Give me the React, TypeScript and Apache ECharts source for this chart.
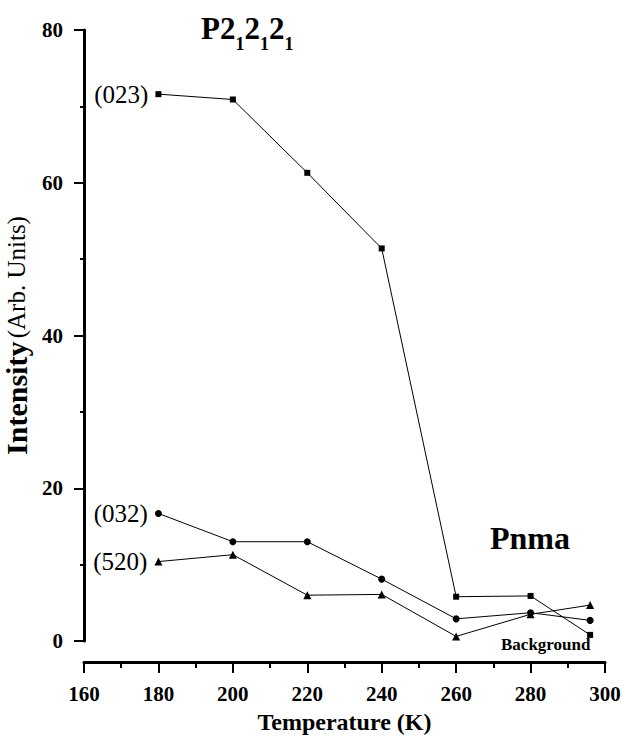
import React, { useEffect, useRef } from "react";
import * as echarts from "echarts";

const temperatures = [180, 200, 220, 240, 260, 280, 296];
const s023 = [71.6, 70.9, 61.3, 51.4, 5.8, 5.9, 0.8];
const s032 = [16.7, 13.0, 13.0, 8.1, 2.9, 3.7, 2.7];
const s520 = [10.4, 11.3, 6.0, 6.1, 0.6, 3.5, 4.7];
const seriesNames = ["(023)", "(032)", "(520)"];
const xTicks = { min: 160, max: 300, interval: 20 };
const yTicks = { min: 0, max: 80, interval: 20 };

const FONT = "'Liberation Serif', 'DejaVu Serif', serif";

export default function App() {
  const ref = useRef<HTMLDivElement>(null);
  useEffect(() => {
    if (!ref.current) return;
    const chart = echarts.init(ref.current, undefined, { renderer: "svg" });
    const mk = (name: string, vals: number[], symbol: string, size: number) => ({
      name,
      type: "line",
      data: temperatures.map((t, i) => [t, vals[i]]),
      symbol,
      symbolSize: size,
      lineStyle: { color: "#000", width: 1 },
      itemStyle: { color: "#000" },
      label: {
        show: true,
        position: "left",
        distance: 7,
        fontFamily: FONT,
        fontSize: 25,
        color: "#000",
        formatter: (p: any) => (p.dataIndex === 0 ? name : ""),
      },
    });
    chart.setOption({
      animation: false,
      backgroundColor: "#fff",
      grid: { left: 84, right: 17, top: 30, bottom: 99, containLabel: false, outerBoundsMode: "none" },
      xAxis: {
        type: "value",
        min: xTicks.min,
        max: xTicks.max,
        interval: xTicks.interval,
        offset: 21,
        axisLine: { show: true, onZero: false, lineStyle: { color: "#000", width: 3 } },
        axisTick: { show: true, length: 11, lineStyle: { color: "#000", width: 2 } },
        minorTick: { show: true, splitNumber: 2, length: 6, lineStyle: { color: "#000", width: 2 } },
        splitLine: { show: false },
        axisLabel: { color: "#000", fontFamily: FONT, fontWeight: "bold", fontSize: 21, margin: 21 },
        name: "Temperature (K)",
        nameLocation: "middle",
        nameGap: 48,
        nameTextStyle: { color: "#000", fontFamily: FONT, fontWeight: "bold", fontSize: 24 },
      },
      yAxis: {
        type: "value",
        min: yTicks.min,
        max: yTicks.max,
        interval: yTicks.interval,
        axisLine: { show: true, onZero: false, lineStyle: { color: "#000", width: 3 } },
        axisTick: { show: true, length: 10, lineStyle: { color: "#000", width: 2 } },
        minorTick: { show: true, splitNumber: 2, length: 4, lineStyle: { color: "#000", width: 2 } },
        splitLine: { show: false },
        axisLabel: { color: "#000", fontFamily: FONT, fontWeight: "bold", fontSize: 21, margin: 21 },
        name: "{b|Intensity} {n|(Arb. Units)}",
        nameLocation: "middle",
        nameRotate: 90,
        nameGap: 46,
        nameTextStyle: {
          color: "#000",
          rich: {
            b: { fontFamily: FONT, fontWeight: "bold", fontSize: 30, color: "#000" },
            n: { fontFamily: FONT, fontSize: 25, color: "#000" },
          },
        },
      },
      series: [
        mk(seriesNames[0], s023, "rect", 6),
        mk(seriesNames[1], s032, "circle", 7),
        mk(seriesNames[2], s520, "triangle", 8),
      ],
      graphic: [
        {
          type: "text",
          left: 201,
          top: 13,
          style: {
            text: "{a|P2}{s|1}{a|2}{s|1}{a|2}{s|1}",
            rich: {
              a: { fontFamily: FONT, fontWeight: "bold", fontSize: 31, fill: "#000", lineHeight: 32, verticalAlign: "top" },
              s: { fontFamily: FONT, fontWeight: "bold", fontSize: 18, fill: "#000", lineHeight: 40, verticalAlign: "bottom" },
            },
          },
        },
        {
          type: "text",
          left: 490,
          top: 522,
          style: { text: "Pnma", fontFamily: FONT, fontWeight: "bold", fontSize: 32, fill: "#000" },
        },
        {
          type: "text",
          left: 501,
          top: 636,
          style: { text: "Background", fontFamily: FONT, fontWeight: "bold", fontSize: 17, fill: "#000" },
        },
      ],
    });
    return () => chart.dispose();
  }, []);
  return (
    <div
      ref={ref}
      style={{ position: "fixed", left: 0, top: 0, width: 622, height: 740 }}
    />
  );
}
